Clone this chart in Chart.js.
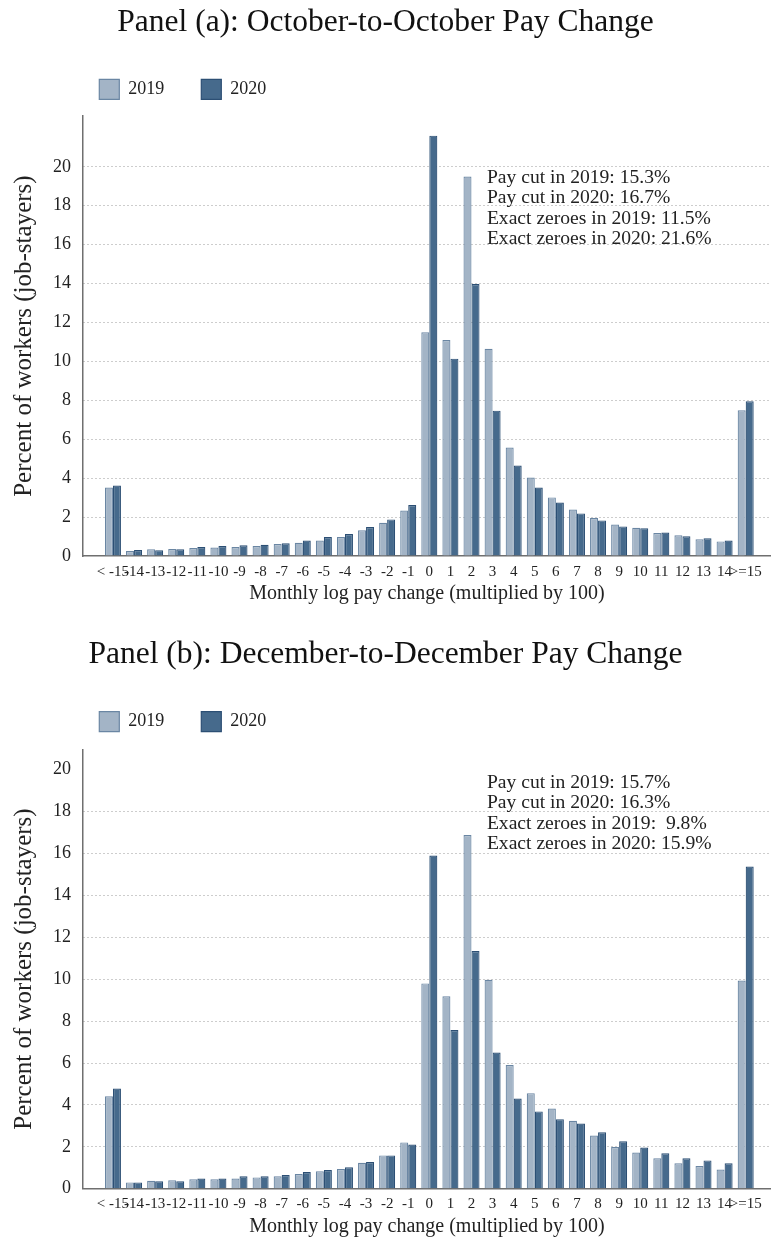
<!DOCTYPE html>
<html>
<head>
<meta charset="utf-8">
<script src="https://cdn.jsdelivr.net/npm/chart.js@4/dist/chart.umd.min.js"></script>
<style>
  html, body { margin: 0; padding: 0; background: #fff; }
  canvas { display: block; }
</style>
</head>
<body>
<canvas id="panelA" width="771" height="615"></canvas>
<canvas id="panelB" width="771" height="628"></canvas>
<script>
// Bins of the monthly log pay change (x100)
const categories = ['< -15', '-14', '-13', '-12', '-11', '-10', '-9', '-8', '-7', '-6', '-5', '-4', '-3', '-2', '-1',
  '0', '1', '2', '3', '4', '5', '6', '7', '8', '9', '10', '11', '12', '13', '14', '>=15'];
const seriesNames = ['2019', '2020'];

// Panel (a): October-to-October, percent of job-stayers per bin
const octShare2019 = [3.52, 0.26, 0.35, 0.36, 0.41, 0.44, 0.46, 0.51, 0.62, 0.68, 0.80, 0.97, 1.32, 1.71, 2.34,
  11.5, 11.1, 19.5, 10.65, 5.57, 4.03, 3.01, 2.39, 1.95, 1.62, 1.45, 1.18, 1.06, 0.86, 0.75, 7.49];
const octShare2020 = [3.62, 0.31, 0.30, 0.35, 0.46, 0.51, 0.55, 0.58, 0.65, 0.80, 0.97, 1.13, 1.49, 1.88, 2.62,
  21.6, 10.14, 13.98, 7.47, 4.65, 3.52, 2.75, 2.19, 1.83, 1.52, 1.43, 1.21, 1.01, 0.91, 0.80, 7.95];

// Panel (b): December-to-December
const decShare2019 = [4.41, 0.30, 0.38, 0.40, 0.45, 0.45, 0.49, 0.54, 0.59, 0.70, 0.83, 0.94, 1.24, 1.59, 2.21,
  9.8, 9.19, 16.88, 9.97, 5.90, 4.56, 3.83, 3.24, 2.54, 1.99, 1.73, 1.45, 1.21, 1.08, 0.92, 9.94];
const decShare2020 = [4.78, 0.30, 0.35, 0.35, 0.49, 0.49, 0.59, 0.59, 0.65, 0.80, 0.89, 1.02, 1.27, 1.59, 2.11,
  15.9, 7.57, 11.35, 6.50, 4.30, 3.69, 3.32, 3.11, 2.69, 2.26, 1.97, 1.69, 1.45, 1.35, 1.21, 15.38];

const yTickValues = [0, 2, 4, 6, 8, 10, 12, 14, 16, 18, 20];

const octNotes = ['Pay cut in 2019: 15.3%', 'Pay cut in 2020: 16.7%', 'Exact zeroes in 2019: 11.5%', 'Exact zeroes in 2020: 21.6%'];
const decNotes = ['Pay cut in 2019: 15.7%', 'Pay cut in 2020: 16.3%', 'Exact zeroes in 2019:  9.8%', 'Exact zeroes in 2020: 15.9%'];

const FAMILY = "'Liberation Serif', 'Times New Roman', serif";
Chart.defaults.font.family = FAMILY;
Chart.defaults.color = '#222';

// bin index -> position on the x scale (bin "0" sits at 0)
const ZERO_INDEX = categories.indexOf('0');

// Places the legend row at a fixed spot above the plot
const legendPlacement = {
  id: 'legendPlacement',
  afterLayout(chart, args, opts) {
    const lg = chart.legend;
    if (!lg) return;
    const pad = lg.options.labels.padding;
    lg.left = opts.x - pad;
    lg.top = opts.y - pad;
  }
};

// Summary text block anchored in data coordinates
const notesPlugin = {
  id: 'notes',
  afterDatasetsDraw(chart, args, opts) {
    const { ctx, scales: { x, y } } = chart;
    ctx.save();
    ctx.font = opts.size + 'px ' + FAMILY;
    ctx.fillStyle = opts.color;
    ctx.textAlign = 'left';
    ctx.textBaseline = 'alphabetic';
    const x0 = x.getPixelForValue(opts.x);
    const y0 = y.getPixelForValue(opts.y);
    opts.lines.forEach((t, i) => ctx.fillText(t, x0, y0 + i * opts.lineGap));
    ctx.restore();
  }
};

function toPoints(values) {
  return values.map((v, i) => ({ x: i - ZERO_INDEX, y: v }));
}

function makePanel(id, cfg) {
  const hideGrid = (c) => c.tick && (c.tick.value === 0 || (cfg.hideTopGrid && c.tick.value === 20));
  return new Chart(document.getElementById(id), {
    type: 'bar',
    data: {
      datasets: [
        {
          label: seriesNames[0], data: toPoints(cfg.first),
          backgroundColor: '#a3b4c6', borderColor: '#6a86a3', borderWidth: 1.2,
          barPercentage: 1, categoryPercentage: 0.76
        },
        {
          label: seriesNames[1], data: toPoints(cfg.second),
          backgroundColor: '#466a8c', borderColor: '#2c4f74', borderWidth: 1.2,
          barPercentage: 1, categoryPercentage: 0.76
        }
      ]
    },
    options: {
      responsive: false,
      animation: false,
      devicePixelRatio: 1,
      layout: { padding: 0 },
      scales: {
        x: {
          type: 'linear', offset: false,
          min: -ZERO_INDEX - 1.42, max: categories.length - 1 - ZERO_INDEX + 1.2,
          afterBuildTicks: (s) => { s.ticks = categories.map((c, i) => ({ value: i - ZERO_INDEX })); },
          afterFit: (s) => { s.height = cfg.xAxisHeight; },
          grid: { display: false, drawTicks: false, offset: false },
          border: { display: true, color: '#6f6f6f', width: 1.5 },
          ticks: {
            autoSkip: false, maxRotation: 0, minRotation: 0, padding: cfg.xTickPad,
            color: '#222', font: { size: 15 },
            callback: (v) => categories[Math.round(v) + ZERO_INDEX]
          },
          title: {
            display: true, text: 'Monthly log pay change (multiplied by 100)', color: '#222',
            font: { size: 20 }, padding: { top: 0, bottom: cfg.xTitlePad }
          }
        },
        y: {
          min: 0, max: cfg.yMax,
          afterBuildTicks: (s) => { s.ticks = yTickValues.map((v) => ({ value: v })); },
          afterFit: (s) => { s.width = 83; },
          grid: {
            drawTicks: false, lineWidth: 1,
            color: (c) => hideGrid(c) ? 'rgba(0,0,0,0)' : '#9a9a9a'
          },
          border: { display: true, color: '#6f6f6f', width: 1.5, dash: [1, 3] },
          ticks: { padding: 12, color: '#222', font: { size: 18 } },
          title: {
            display: true, text: 'Percent of workers (job-stayers)', color: '#222',
            font: { size: 25 }, padding: { top: 9.9, bottom: 0 }
          }
        }
      },
      plugins: {
        title: {
          display: true, text: cfg.title, color: '#111',
          font: { size: 31.5, weight: 'normal' },
          padding: { top: cfg.titlePadTop, bottom: cfg.titlePadBottom }
        },
        legend: {
          display: true, position: 'top', align: 'start',
          labels: { boxWidth: 20, boxHeight: 20, padding: 37, color: '#222', font: { size: 18 } }
        },
        tooltip: { enabled: false },
        legendPlacement: { x: 99.3, y: cfg.legendBoxTop },
        notes: { x: 2.73, y: cfg.noteY, lineGap: cfg.noteGap, size: 19.6, color: '#222', lines: cfg.notes }
      }
    },
    plugins: [legendPlacement, notesPlugin]
  });
}

makePanel('panelA', {
  title: 'Panel (a): October-to-October Pay Change',
  first: octShare2019, second: octShare2020, notes: octNotes,
  titlePadTop: 4.3, titlePadBottom: 7.1, legendBoxTop: 79.3,
  yMax: 22.6, xAxisHeight: 59, xTickPad: 7, xTitlePad: 9.25,
  noteY: 19.18, noteGap: 20.4, hideTopGrid: false
});

makePanel('panelB', {
  title: 'Panel (b): December-to-December Pay Change',
  first: decShare2019, second: decShare2020, notes: decNotes,
  titlePadTop: 20.4, titlePadBottom: 9.2, legendBoxTop: 96.7,
  yMax: 20.97, xAxisHeight: 54.3, xTickPad: 6.3, xTitlePad: 4.5,
  noteY: 19.14, noteGap: 20.5, hideTopGrid: true
});
</script>
</body>
</html>
